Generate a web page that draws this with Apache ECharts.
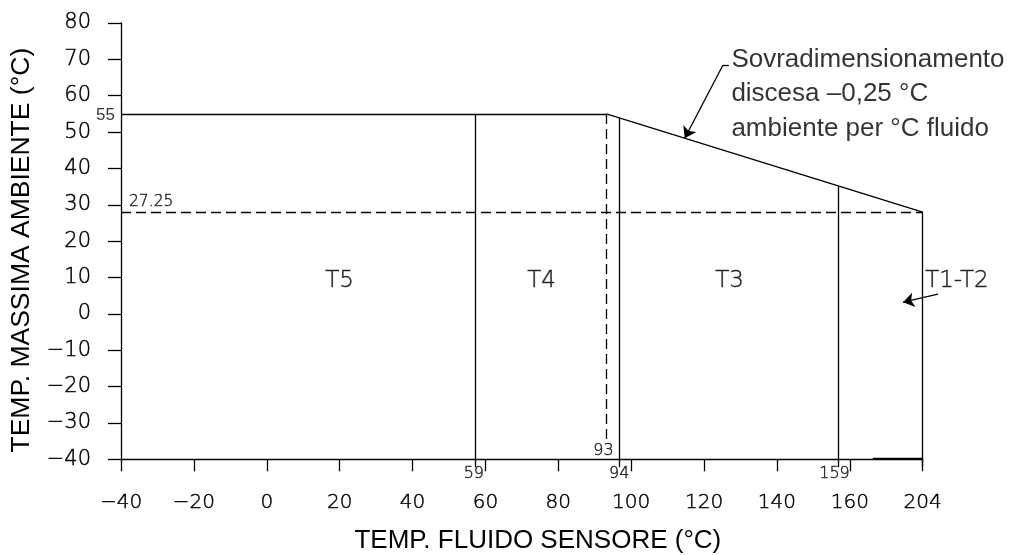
<!DOCTYPE html>
<html><head><meta charset="utf-8">
<script src="https://cdn.jsdelivr.net/npm/echarts@6/dist/echarts.min.js"></script>
<style>html,body{margin:0;padding:0;background:#fff}#c{width:1011px;height:555px}</style>
</head><body><div id="c"></div>
<script>
// ---- data (axis units) ----
const xTickLabels = ['−40','−20','0','20','40','60','80','100','120','140','160','204'];
const yTickLabels = ['−40','−30','−20','−10','0','10','20','30','40','50','60','70','80'];
const xTitle = 'TEMP. FLUIDO SENSORE (°C)';
const yTitle = 'TEMP. MASSIMA AMBIENTE (°C)';

const maxAmbient = 55;          // flat limit
const derateStartX = 93.2;      // drawn position of 93
const derateEndX = 180;         // drawn position of 204
const derateEndY = 28;          // drawn level of 27.25
const boundaryNames = ['59','94','159'];
const boundaryX = [57.1, 96.7, 156.9, 180];
const boundaryTop = [55, 54, 35, 28];
const axisBottom = -40;
const tickBelow = -42.2;
const dashedVertBottom = -34.7;
const baseDouble = [[166.3, -39.75], [180, -39.75]];

const zoneNames = ['T5','T4','T3','T1-T2'];
const zoneX = [20, 75.4, 127, 189.4];
const zoneY = 8.9;

const t12Arrow = [[184.2, 5.4], [174.6, 3.2]];
const leaderHook = [[126.8, 68.45], [125.2, 68.45]];
const leaderArrow = [[125.2, 68.45], [114.7, 48.3]];
const noteText = 'Sovradimensionamento\ndiscesa –0,25 °C\nambiente per °C fluido';
const notePos = [127.5, 60.4];

// ---- build ----
const cad = 'DejaVu Sans';
const sans = '"Liberation Sans", Arial, Helvetica, sans-serif';
const black = '#000';
const cadStyle = {fontFamily: cad, fontWeight: 300, textBorderColor: '#000', textBorderWidth: 0.45, color: black};

const solidSegs = [
  {coords: [[-40, maxAmbient], [derateStartX, maxAmbient]]},
  {coords: [[derateStartX, maxAmbient], [derateEndX, derateEndY]]},
  {coords: leaderHook},
  {coords: baseDouble}
];
boundaryX.forEach((x, i) => solidSegs.push({coords: [[x, tickBelow], [x, boundaryTop[i]]]}));
const dashSegs = [
  {coords: [[-40, derateEndY], [derateEndX, derateEndY]]},
  {coords: [[derateStartX, maxAmbient], [derateStartX, dashedVertBottom]]}
];
const arrowSegs = [{coords: t12Arrow}, {coords: leaderArrow}];

const labels = [];
zoneNames.forEach((n, i) => labels.push({value: [zoneX[i], zoneY], label: Object.assign({formatter: n, fontSize: 23, position: 'inside', align: 'center', verticalAlign: 'middle'}, cadStyle)}));
labels.push({value: [-40, maxAmbient], label: {formatter: '55', fontFamily: sans, fontSize: 17, color: black, position: 'inside', align: 'right', verticalAlign: 'middle', offset: [-6, 1]}});
labels.push({value: [-40, derateEndY], label: Object.assign({formatter: '27.25', fontSize: 15.5, position: 'inside', align: 'left', verticalAlign: 'bottom', offset: [8, -2]}, cadStyle)});
labels.push({value: [derateStartX, axisBottom], label: Object.assign({formatter: '93', fontSize: 16, position: 'inside', align: 'center', verticalAlign: 'middle', offset: [-3, -8]}, cadStyle)});
const bOff = [-1, 0, -4];
boundaryNames.forEach((n, i) => labels.push({value: [boundaryX[i], axisBottom], label: Object.assign({formatter: n, fontSize: 16, position: 'inside', align: 'center', verticalAlign: 'middle', offset: [bOff[i], 15]}, cadStyle)}));
labels.push({value: notePos, label: {formatter: noteText, fontFamily: sans, fontSize: 26, lineHeight: 34.5, color: black, position: 'inside', align: 'left', verticalAlign: 'middle'}});

const chart = echarts.init(document.getElementById('c'), null, {renderer: 'canvas'});
chart.setOption({
  animation: false,
  backgroundColor: '#fff',
  grid: {left: 121, right: 88.3, top: 23, bottom: 95.7, containLabel: false, outerBoundsMode: 'none'},
  xAxis: {
    type: 'value', min: -40, max: 180, interval: 20,
    name: xTitle, nameLocation: 'middle', nameGap: 82,
    nameTextStyle: {fontFamily: sans, fontSize: 26, color: black, verticalAlign: 'middle', padding: [0, 0, 0, 32]},
    axisLine: {onZero: false, lineStyle: {color: black, width: 1.3}},
    axisTick: {length: 12, lineStyle: {color: black, width: 1.3}},
    axisLabel: Object.assign({margin: 33, fontSize: 20, formatter: (v, i) => xTickLabels[i]}, cadStyle),
    splitLine: {show: false}
  },
  yAxis: {
    type: 'value', min: -40, max: 80, interval: 10,
    name: yTitle, nameLocation: 'middle', nameGap: 98, nameRotate: 90,
    nameTextStyle: {fontFamily: sans, fontSize: 26.5, color: black, verticalAlign: 'middle', padding: [0, 18, 0, 0]},
    axisLine: {onZero: false, lineStyle: {color: black, width: 1.3}},
    axisTick: {length: 13, lineStyle: {color: black, width: 1.3}},
    axisLabel: Object.assign({margin: 30, fontSize: 21, formatter: (v, i) => yTickLabels[i]}, cadStyle),
    splitLine: {show: false}
  },
  series: [
    {type: 'lines', coordinateSystem: 'cartesian2d', clip: false, silent: true,
      lineStyle: {color: black, width: 1.3, opacity: 1}, data: solidSegs},
    {type: 'lines', coordinateSystem: 'cartesian2d', clip: false, silent: true,
      lineStyle: {color: black, width: 1.3, type: [10, 5], opacity: 1}, data: dashSegs},
    {type: 'lines', coordinateSystem: 'cartesian2d', clip: false, silent: true,
      symbol: ['none', 'arrow'], symbolSize: [0, 11],
      lineStyle: {color: black, width: 1.3, opacity: 1}, data: arrowSegs},
    {type: 'scatter', clip: false, silent: true, symbolSize: 0,
      label: {show: true, color: black}, data: labels}
  ]
});
</script></body></html>
